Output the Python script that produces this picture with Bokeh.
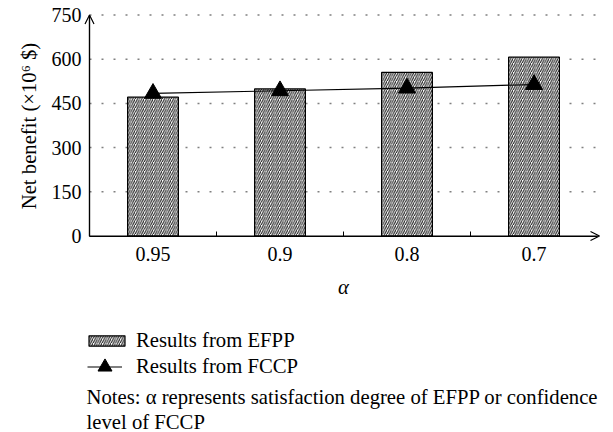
from bokeh.plotting import figure
from bokeh.models import (FixedTicker, Legend, LegendItem, Label, Arrow, OpenHead, Range1d)
from bokeh.embed import file_html
from bokeh.resources import INLINE

# ---- data ----
alpha_levels = ["0.95", "0.9", "0.8", "0.7"]
efpp_values = [471, 499, 555, 607]
fccp_values = [484, 493, 502, 514]
y_ticks = [0, 150, 300, 450, 600, 750]

FONT = "Liberation Serif"
FS = "20px"
FS_TXT = "20.7px"

W, H = 612, 432
# pixel layout targets (page px) for the data area
X0_PX, X1_PX = 89.0, 597.0      # x=0 and x=n
Y0_PX, Y1_PX = 235.5, 14.5      # y=0 and y=750

n = len(alpha_levels)
xpos = [i + 0.5 for i in range(n)]
sx = (X1_PX - X0_PX) / n
sy = (Y0_PX - Y1_PX) / (y_ticks[-1] - y_ticks[0])
x_range = Range1d(-X0_PX / sx, (W - X0_PX) / sx)
y_range = Range1d(-(H - Y0_PX) / sy, y_ticks[-1] + Y1_PX / sy)

p = figure(width=W, height=H, output_backend="svg", toolbar_location=None,
           x_range=x_range, y_range=y_range,
           min_border=0, min_border_left=0, min_border_right=0,
           min_border_top=0, min_border_bottom=0)
p.outline_line_color = None
p.background_fill_color = "white"
p.xgrid.visible = False
p.ygrid.visible = False

# dotted horizontal guide lines at the y ticks, spanning the category area
grid_levels = y_ticks[1:]
p.segment(x0=[0] * len(grid_levels), x1=[n] * len(grid_levels),
          y0=grid_levels, y1=grid_levels,
          line_color="#808080", line_width=1.5, line_dash="2 10")

bars = p.vbar(x=xpos, top=efpp_values, width=0.4, bottom=0,
              fill_color="white", line_color="black", line_width=1.2,
              hatch_pattern="/", hatch_scale=4.5, hatch_weight=1.1, hatch_color="#1e1e1e")
line_r = p.line(x=xpos, y=fccp_values, line_color="black", line_width=1.2)
pts = p.scatter(x=xpos, y=fccp_values, marker="triangle", size=17, color="black")

# axes (fixed at the origin)
xa = p.xaxis[0]
xa.fixed_location = 0
xa.bounds = (0, n)
xa.ticker = FixedTicker(ticks=xpos, minor_ticks=list(range(1, n)))
xa.major_label_overrides = {x: lab for x, lab in zip(xpos, alpha_levels)}
xa.major_tick_line_color = None
xa.major_tick_in = 0
xa.major_tick_out = 0
xa.minor_tick_in = 5
xa.minor_tick_out = 0
xa.minor_tick_line_color = "black"
xa.axis_line_color = "black"
xa.axis_line_width = 1.2
xa.major_label_text_font = FONT
xa.major_label_text_font_size = FS
xa.major_label_text_color = "black"
xa.major_label_standoff = 11
xa.axis_label = "α"
xa.axis_label_text_font = FONT
xa.axis_label_text_font_size = FS_TXT
xa.axis_label_text_font_style = "italic"
xa.axis_label_text_color = "black"
xa.axis_label_standoff = 11

ya = p.yaxis[0]
ya.fixed_location = 0
ya.bounds = (y_ticks[0], y_ticks[-1])
ya.ticker = FixedTicker(ticks=y_ticks)
ya.major_tick_line_color = None
ya.minor_tick_line_color = None
ya.major_tick_in = 0
ya.major_tick_out = 0
ya.axis_line_color = "black"
ya.axis_line_width = 1.2
ya.major_label_text_font = FONT
ya.major_label_text_font_size = FS
ya.major_label_text_color = "black"
ya.major_label_standoff = 8
ya.axis_label = "Net benefit (×10⁶ $)"
ya.axis_label_text_font = FONT
ya.axis_label_text_font_size = FS_TXT
ya.axis_label_text_font_style = "normal"
ya.axis_label_text_color = "black"
ya.axis_label_standoff = 9

# axis arrow heads
p.add_layout(Arrow(end=OpenHead(size=9, line_color="black", line_width=1.2),
                   x_start=0, y_start=y_ticks[0], x_end=0, y_end=y_ticks[-1],
                   line_color="black", line_width=1.2))
p.add_layout(Arrow(end=OpenHead(size=9, line_color="black", line_width=1.2),
                   x_start=0, y_start=0, x_end=n + 2.0 / sx, y_end=0,
                   line_color="black", line_width=1.2))

common = dict(orientation="vertical", label_text_font=FONT, label_text_font_size=FS_TXT,
              label_text_color="black", label_height=20, padding=0, margin=0,
              border_line_color=None, background_fill_alpha=0, spacing=0)

legend_a = Legend(items=[LegendItem(label="Results from EFPP", renderers=[bars])],
                  location=(84, H - 352), glyph_width=45, glyph_height=13,
                  label_standoff=7, **common)
legend_b = Legend(items=[LegendItem(label="Results from FCCP", renderers=[line_r, pts])],
                  location=(87, H - 383.5), glyph_width=35, glyph_height=35,
                  label_standoff=14, **common)
p.add_layout(legend_a, "center")
p.add_layout(legend_b, "center")

p.add_layout(Label(x=86, y=H - 396.5, x_units="screen", y_units="screen",
                   text="Notes: α represents satisfaction degree of EFPP or confidence",
                   text_font=FONT, text_font_size=FS_TXT, text_color="black",
                   text_baseline="alphabetic"))
p.add_layout(Label(x=86, y=H - 421, x_units="screen", y_units="screen",
                   text="level of FCCP",
                   text_font=FONT, text_font_size=FS_TXT, text_color="black",
                   text_baseline="alphabetic"))

open("out.html", "w").write(file_html(p, INLINE))
